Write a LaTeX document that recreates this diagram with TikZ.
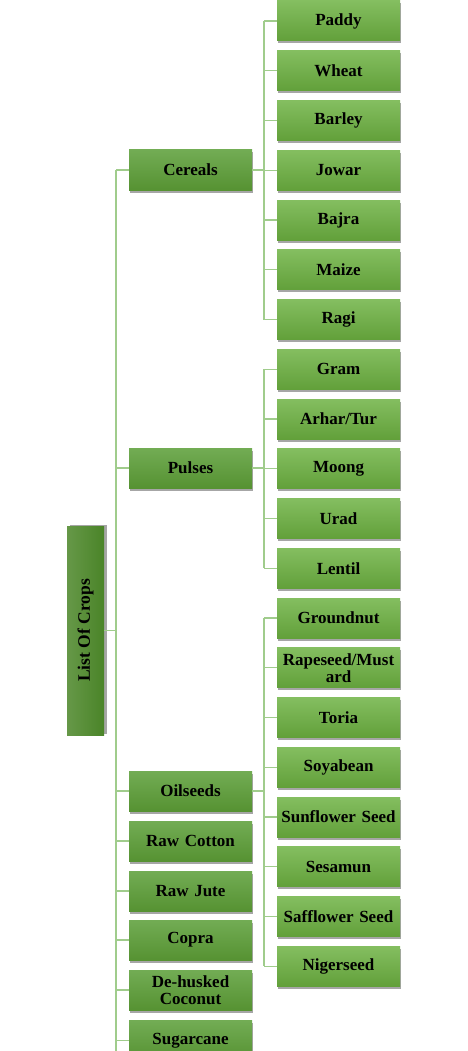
\documentclass[tikz,border=0pt]{standalone}
\usepackage{fontspec}
\setmainfont{Liberation Serif}
\usetikzlibrary{shadows}
\definecolor{leaftop}{RGB}{132,190,96}
\definecolor{leafbot}{RGB}{98,160,58}
\definecolor{cattop}{RGB}{114,172,84}
\definecolor{catbot}{RGB}{86,146,50}
\definecolor{rootl}{RGB}{102,152,72}
\definecolor{rootr}{RGB}{74,132,40}
\definecolor{conn}{RGB}{160,204,140}
\tikzset{
  box/.style={rectangle, minimum width=123pt, minimum height=40pt, inner sep=0pt,
    align=center, text width=123pt, font=\fontsize{17}{17}\selectfont\bfseries,
    drop shadow={shadow xshift=1pt, shadow yshift=-2.5pt, opacity=0.35, fill=black}},
  leaf/.style={box, top color=leaftop, bottom color=leafbot},
  cat/.style={box, top color=cattop, bottom color=catbot},
  rootbox/.style={rectangle, minimum width=209pt, minimum height=37pt, left color=rootl, right color=rootr,
    font=\fontsize{17.5}{17}\selectfont\bfseries, rotate=90,
    drop shadow={shadow xshift=2.5pt, shadow yshift=1pt, opacity=0.35, fill=black}},
  link/.style={draw=conn, line width=1.4pt}
}
\begin{document}
\begin{tikzpicture}[x=1pt,y=-1pt]
\useasboundingbox (0,0) rectangle (468,1051);
\clip (0,0) rectangle (468,1051);
% root
\node[rootbox] (root) at (85.5,630.5) {List Of Crops};
% categories
\node[cat] (cereals) at (190.5,170) {Cereals};
\node[cat] (pulses) at (190.5,468) {Pulses};
\node[cat] (oil) at (190.5,791) {Oilseeds};
\node[cat] (cotton) at (190.5,841) {Raw Cotton};
\node[cat] (jute) at (190.5,891) {Raw Jute};
\node[cat] (copra) at (190.5,940) {Copra};
\node[cat] (coco) at (190.5,990) {De-husked\\Coconut};
\node[cat] (sugar) at (190.5,1040.5) {Sugarcane};
% leaves
\foreach \n/\t [count=\i from 0] in {l1/Paddy,l2/Wheat,l3/Barley,l4/Jowar,l5/Bajra,l6/Maize,l7/Ragi,
  l8/Gram,l9/{Arhar/Tur},l10/Moong,l11/Urad,l12/Lentil,
  l13/Groundnut,l14/{Rapeseed/Must\\ard},l15/Toria,l16/Soyabean,l17/Sunflower Seed,l18/Sesamun,l19/Safflower Seed,l20/Nigerseed}
  \node[leaf] (\n) at (338.5,{21+49.75*\i}) {\t};
% connectors
\coordinate (trunktop) at (116,170);
\coordinate (trunkbot) at (116,1051);
\coordinate (bx) at (264,0);
\draw[link] (trunktop) -- (trunkbot);
\draw[link] (root.south) -- (root.south -| trunktop);
\foreach \c in {cereals,pulses,oil,cotton,jute,copra,coco,sugar}
  \draw[link] (\c.west -| trunktop) -- (\c.west);
% cereals
\draw[link] (cereals.east) -- (cereals.east -| bx);
\draw[link] (l1.west -| bx) -- (l7.west -| bx);
\foreach \n in {l1,l2,l3,l4,l5,l6,l7} \draw[link] (\n.west -| bx) -- (\n.west);
% pulses
\draw[link] (pulses.east) -- (pulses.east -| bx);
\draw[link] (l8.west -| bx) -- (l12.west -| bx);
\foreach \n in {l8,l9,l10,l11,l12} \draw[link] (\n.west -| bx) -- (\n.west);
% oilseeds
\draw[link] (oil.east) -- (oil.east -| bx);
\draw[link] (l13.west -| bx) -- (l20.west -| bx);
\foreach \n in {l13,l14,l15,l16,l17,l18,l19,l20} \draw[link] (\n.west -| bx) -- (\n.west);
\end{tikzpicture}
\end{document}
